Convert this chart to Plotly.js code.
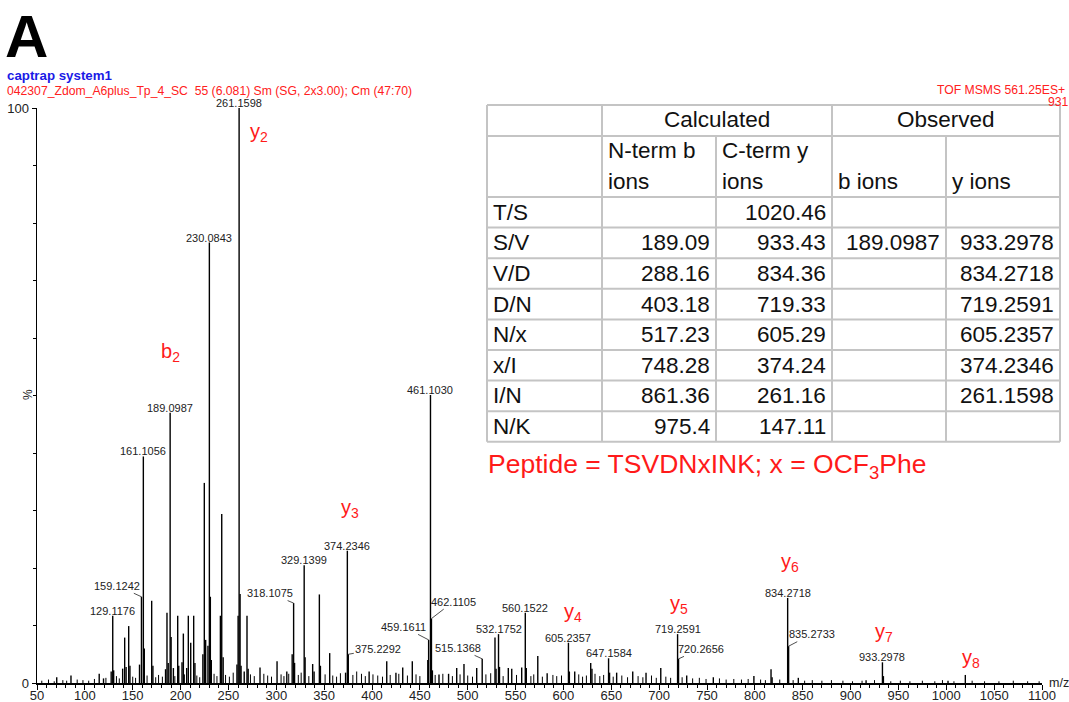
<!DOCTYPE html>
<html>
<head>
<meta charset="utf-8">
<script src="https://cdn.plot.ly/plotly-3.0.1.min.js"></script>
<style>
  html, body { margin: 0; padding: 0; background: #fff; }
  #chart { width: 1069px; height: 702px; }
</style>
</head>
<body>
<div id="chart"></div>
<script>
// ---- Spectrum data: m/z and relative intensity (%) ----

// Annotated fragment peaks
const labelledMz = [129.1176, 159.1242, 161.1056, 189.0987, 230.0843, 261.1598,
  318.1075, 329.1399, 374.2346, 375.2292, 459.1611, 461.1030, 462.1105,
  515.1368, 532.1752, 560.1522, 605.2357, 647.1584, 719.2591, 720.2656,
  834.2718, 835.2733, 933.2978];
const labelledInt = [11.7, 15.0, 39.4, 47.0, 76.6, 100, 13.9, 20.5, 23.0, 5.0,
  7.5, 50.1, 11.2, 4.2, 8.5, 12.2, 7.0, 4.3, 8.5, 4.2, 14.8, 6.4, 3.6];

// Other visible peaks without a mass label
const otherMz = [70.6, 85.5, 115.0, 119.5, 127.5, 130.1, 139.5, 141.6, 143.1, 145.8,
  147.1, 157.1, 162.1, 169.8, 171.1, 184.3, 185.8, 187.1, 190.1, 192.5, 197.0,
  198.1, 201.5, 202.9, 206.4, 208.1, 210.6, 213.7, 215.0, 223.3, 224.8, 226.2,
  228.6, 231.1, 232.1, 241.6, 243.0, 244.5, 258.9, 260.1, 262.16, 263.2, 266.5,
  269.4, 270.6, 283.0, 300.8, 311.0, 316.6, 319.1, 330.1, 338.0, 339.5, 345.0,
  346.1, 355.8, 372.4, 397.0, 415.4, 425.0, 432.1, 442.1, 458.3, 463.1, 470.0,
  480.0, 488.5, 496.1, 509.4, 528.5, 529.6, 533.2, 542.4, 546.0, 556.4, 561.2,
  573.2, 583.0, 606.2, 611.8, 628.5, 629.8, 648.2, 655.6, 672.4, 686.3, 701.7,
  728.8, 756.6, 799.0, 816.9, 818.0, 845.4, 916.2, 934.3, 1001.8, 1019.9];
const otherInt = [1.0, 1.3, 1.6, 0.8, 2.0, 2.2, 2.5, 7.9, 2.8, 9.9,
  3.0, 3.2, 6.0, 14.3, 3.0, 2.4, 12.2, 3.5, 8.0, 2.6, 11.7,
  3.0, 3.6, 8.6, 2.6, 11.7, 7.0, 11.7, 3.5, 5.0, 34.8, 7.5,
  6.5, 15.0, 4.0, 11.7, 29.4, 4.5, 3.2, 11.7, 15.5, 3.0, 2.0,
  11.7, 2.5, 2.7, 3.8, 2.0, 5.0, 3.5, 4.5, 3.3, 2.0, 15.4,
  3.0, 5.2, 1.8, 2.0, 3.8, 1.8, 2.7, 3.8, 4.0, 2.2, 1.5,
  1.6, 2.6, 3.3, 2.6, 7.9, 2.5, 2.8, 2.6, 2.5, 2.7, 2.6,
  4.7, 1.7, 2.0, 2.0, 3.5, 2.5, 1.8, 1.8, 2.0, 1.8, 2.6,
  1.3, 1.0, 1.2, 2.4, 1.0, 0.9, 0.5, 1.2, 0.4, 1.4];

// Low-level baseline signal
const baseMz = [55, 62, 68, 77, 81, 92, 98, 104, 110, 122, 133, 136, 150, 153, 165,
  174, 177, 181, 194, 204, 217, 220, 235, 238, 247, 251, 255, 273, 277, 287, 291,
  295, 305, 308, 313, 323, 326, 334, 351, 359, 363, 367, 380, 384, 389, 393, 401,
  406, 411, 419, 428, 437, 446, 450, 466, 474, 484, 492, 500, 505, 519, 524, 537,
  551, 566, 569, 578, 589, 593, 598, 616, 620, 624, 633, 638, 642, 652, 661, 667,
  678, 683, 692, 697, 707, 712, 724, 735, 742, 749, 763, 770, 778, 786, 793, 806,
  811, 826, 840, 852, 860, 870, 880, 892, 902, 912, 925, 942, 952, 962, 975, 988,
  996, 1008, 1027, 1040, 1055, 1070, 1085, 1097];
const baseInt = [0.4, 0.6, 0.3, 0.5, 0.4, 0.6, 0.5, 0.4, 0.7, 0.9, 1.2, 0.8, 1.1, 0.9, 1.3,
  1.0, 1.4, 1.1, 1.2, 1.5, 1.3, 1.0, 1.6, 1.2, 1.4, 1.1, 1.8, 1.5, 1.2, 1.6, 1.3,
  1.1, 1.5, 1.2, 1.6, 1.4, 1.8, 1.2, 1.5, 1.3, 1.1, 1.7, 1.4, 2.0, 1.6, 1.2, 1.5,
  1.3, 1.1, 1.4, 1.6, 1.3, 1.5, 1.2, 1.4, 1.6, 1.2, 1.5, 1.3, 1.1, 1.5, 1.7, 1.2,
  1.4, 1.2, 1.5, 1.1, 1.4, 1.2, 1.3, 1.5, 1.1, 1.3, 1.6, 1.2, 1.4, 1.1, 1.3, 1.0,
  1.2, 1.0, 1.3, 0.9, 1.1, 0.9, 1.0, 0.8, 0.9, 0.7, 0.8, 0.6, 0.7, 0.6, 0.7, 0.6,
  0.5, 0.6, 0.5, 0.4, 0.5, 0.4, 0.5, 0.4, 0.3, 0.4, 0.5, 0.3, 0.4, 0.3, 0.4, 0.3,
  0.5, 0.3, 0.4, 0.3, 0.3, 0.4, 0.3, 0.3];

// Fragment ion assignments
const ionNames = ['y2', 'b2', 'y3', 'y4', 'y5', 'y6', 'y7', 'y8'];

// ---- Fragment table ----
const tableRows = ['T/S', 'S/V', 'V/D', 'D/N', 'N/x', 'x/I', 'I/N', 'N/K'];
const calcB = ['', '189.09', '288.16', '403.18', '517.23', '748.28', '861.36', '975.4'];
const calcY = ['1020.46', '933.43', '834.36', '719.33', '605.29', '374.24', '261.16', '147.11'];
const obsB = ['', '189.0987', '', '', '', '', '', ''];
const obsY = ['', '933.2978', '834.2718', '719.2591', '605.2357', '374.2346', '261.1598', ''];

// ---- Layout geometry (pixels) ----
const FONT = 'Liberation Sans, Arial, Helvetica, sans-serif';
const PL = 37, PR = 1042, PT = 108, PB = 683;
const px = x => (x - PL) / (PR - PL);          // page x -> paper x
const py = y => (PB - y) / (PB - PT);          // page y -> paper y

// stick spectrum built from the peak arrays
function sticks(mz, inten) {
  const x = [], y = [];
  mz.forEach((m, i) => { x.push(m, m, null); y.push(0, inten[i], null); });
  return { x, y };
}
const sBase = sticks(baseMz, baseInt);
const sOther = sticks(otherMz, otherInt);
const sLab = sticks(labelledMz, labelledInt);

const traces = [
  { type: 'scatter', mode: 'lines', x: sBase.x, y: sBase.y, hoverinfo: 'skip',
    line: { color: '#000', width: 1 }, cliponaxis: false },
  { type: 'scatter', mode: 'lines', x: sOther.x, y: sOther.y, hoverinfo: 'skip',
    line: { color: '#000', width: 1.4 }, cliponaxis: false },
  { type: 'scatter', mode: 'lines', x: sLab.x, y: sLab.y, hoverinfo: 'skip',
    line: { color: '#000', width: 1.4 }, cliponaxis: false }
];

const annotations = [];
const shapes = [];

// mass labels; some sit off to the side with a short leader line
const leader = {
  '159.1242': [-24, -11], '318.1075': [-24, -10], '375.2292': [30, -5],
  '459.1611': [-25, -13], '462.1105': [22, -17], '515.1368': [-24, -11],
  '720.2656': [22, -10], '835.2733': [23, -12]
};
labelledMz.forEach((m, i) => {
  const txt = m.toFixed(4);
  const a = { x: m, y: labelledInt[i], xref: 'x', yref: 'y', text: txt,
    font: { family: FONT, size: 11, color: '#222' } };
  if (leader[txt]) {
    Object.assign(a, { showarrow: true, arrowhead: 0, arrowwidth: 0.8, arrowcolor: '#222',
      ax: leader[txt][0], ay: leader[txt][1], standoff: 0, startstandoff: 0 });
  } else {
    Object.assign(a, { showarrow: false, yanchor: 'bottom', yshift: -3 });
  }
  annotations.push(a);
});

// red ion-series tags
const ionPos = { y2: [270.5, 95.7], b2: [177.5, 57.4], y3: [365.5, 30.4], y4: [598.5, 12.2],
  y5: [709.3, 13.6], y6: [825.3, 20.9], y7: [923.5, 8.7], y8: [1014.4, 4.3] };
ionNames.forEach(n => {
  annotations.push({ x: ionPos[n][0], y: ionPos[n][1], xref: 'x', yref: 'y',
    text: n[0] + '<sub>' + n.slice(1) + '</sub>', showarrow: false,
    xanchor: 'left', yanchor: 'middle',
    font: { family: FONT, size: 20, color: '#ff1a1a' } });
});

// page header texts
function pageText(text, x, y, size, color, opts) {
  annotations.push(Object.assign({ x: px(x), y: py(y), xref: 'paper', yref: 'paper',
    text, showarrow: false, xanchor: 'left', yanchor: 'middle',
    font: { family: FONT, size, color } }, opts || {}));
}
pageText('<b>A</b>', 3, 36, 60, '#000');
pageText('<b>captrap system1</b>', 5, 75, 13.3, '#1a1ae6');
pageText('042307_Zdom_A6plus_Tp_4_SC  55 (6.081) Sm (SG, 2x3.00); Cm (47:70)', 5, 91, 12.2, '#ff2020');
pageText('TOF MSMS 561.25ES+', 1067, 90, 12.2, '#ff2020', { xanchor: 'right' });
pageText('931', 1071, 102, 12.2, '#ff2020', { xanchor: 'right' });
pageText('%', 28, 395, 12, '#222', { xanchor: 'center', textangle: -90 });
pageText('m/z', 1047, 683, 12.5, '#222');

// fragment table drawn with lines and text
const colX = [487, 602, 716, 832, 946, 1060];
const rowY = [105, 136, 197];
for (let r = 1; r <= tableRows.length; r++) rowY.push(197 + r * 30.6);
const gridColor = '#c4c4c4';
function seg(x0, y0, x1, y1) {
  shapes.push({ type: 'line', xref: 'paper', yref: 'paper',
    x0: px(x0), y0: py(y0), x1: px(x1), y1: py(y1),
    line: { color: gridColor, width: 2 } });
}
rowY.forEach(y => seg(colX[0], y, colX[5], y));
const yEnd = rowY[rowY.length - 1];
seg(colX[0], rowY[0], colX[0], yEnd);
seg(colX[1], rowY[0], colX[1], yEnd);
seg(colX[2], rowY[1], colX[2], yEnd);
seg(colX[3], rowY[0], colX[3], yEnd);
seg(colX[4], rowY[1], colX[4], yEnd);
seg(colX[5], rowY[0], colX[5], yEnd);

const TS = 22.5, TC = '#111';
pageText('Calculated', (colX[1] + colX[3]) / 2, 120, TS, TC, { xanchor: 'center' });
pageText('Observed', (colX[3] + colX[5]) / 2, 120, TS, TC, { xanchor: 'center' });
pageText('N-term b', colX[1] + 4, 151, TS, TC);
pageText('ions', colX[1] + 4, 182, TS, TC);
pageText('C-term y', colX[2] + 4, 151, TS, TC);
pageText('ions', colX[2] + 4, 182, TS, TC);
pageText('b ions', colX[3] + 4, 182, TS, TC);
pageText('y ions', colX[4] + 4, 182, TS, TC);
const cols = [calcB, calcY, obsB, obsY];
tableRows.forEach((lab, r) => {
  const yc = (rowY[r + 2] + rowY[r + 3]) / 2;
  pageText(lab, colX[0] + 4, yc, TS, TC);
  cols.forEach((c, k) => {
    if (c[r]) pageText(c[r], colX[k + 2] - 4, yc, TS, TC, { xanchor: 'right' });
  });
});
pageText('Peptide = TSVDNxINK; x = OCF<sub>3</sub>Phe', 486, 466, 26.5, '#ff1a1a');

const layout = {
  width: 1069, height: 702,
  margin: { l: PL, r: 1069 - PR, t: PT, b: 702 - PB, pad: 0 },
  paper_bgcolor: '#fff', plot_bgcolor: '#fff',
  showlegend: false,
  font: { family: FONT, color: '#222' },
  xaxis: {
    range: [50, 1100], tick0: 50, dtick: 50, ticks: 'outside', ticklen: 5,
    tickwidth: 1, tickcolor: '#000', showline: true, linecolor: '#000', linewidth: 1.5,
    showgrid: false, zeroline: false, ticklabelstandoff: -5,
    tickfont: { family: FONT, size: 13, color: '#222' },
    minor: { dtick: 10, ticks: 'outside', ticklen: 3, tickcolor: '#000', showgrid: false }
  },
  yaxis: {
    range: [0, 100], tickvals: [0, 100], ticktext: ['0', '100'],
    ticks: 'outside', ticklen: 4, tickwidth: 1, tickcolor: '#000',
    showline: true, linecolor: '#000', linewidth: 1.5, showgrid: false, zeroline: false,
    tickfont: { family: FONT, size: 13, color: '#222' },
    minor: { tickvals: [10, 20, 30, 40, 50, 60, 70, 80, 90], ticks: 'outside', ticklen: 3,
      tickcolor: '#000', showgrid: false }
  },
  annotations, shapes
};

Plotly.newPlot('chart', traces, layout, { displayModeBar: false, staticPlot: true });
</script>
</body>
</html>
